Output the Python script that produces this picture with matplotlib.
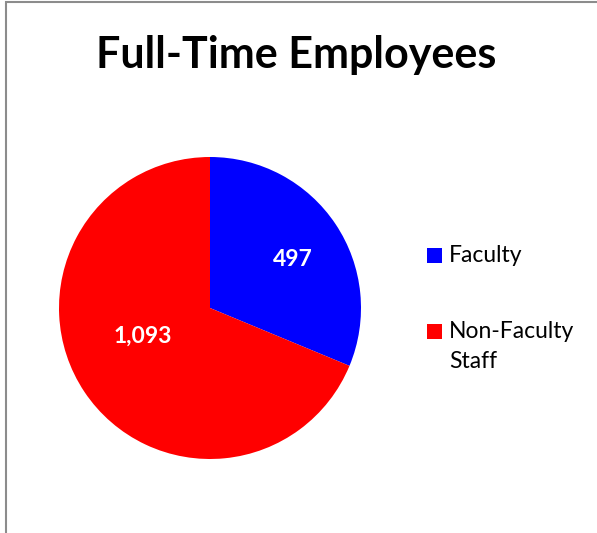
import matplotlib.pyplot as plt
from matplotlib.patches import Rectangle

# data
labels = ['Faculty', 'Non-Faculty\nStaff']
counts = [497, 1093]
colors = ['#0000FF', '#FF0000']
value_text = ['497', '1,093']

W, H = 597, 533
fig = plt.figure(figsize=(W / 100, H / 100), dpi=100)
plt.rcParams['font.family'] = ['Lato', 'DejaVu Sans']

# pie axes: center (210, 308), radius ~151 px
r = 151
cx, cy = 210, 308
ax = fig.add_axes([(cx - r) / W, (H - cy - r) / H, 2 * r / W, 2 * r / H])
wedges, _ = ax.pie(counts, colors=colors, startangle=90, counterclock=False,
                   radius=1.0)
ax.set_xlim(-1, 1)
ax.set_ylim(-1, 1)
ax.set_aspect('equal')
ax.axis('off')

# value labels inside the slices
label_pos = [(293, 260), (143, 336)]
for (px, py), t in zip(label_pos, value_text):
    ax.text((px - cx) / r, (cy - py) / r, t, ha='center', va='center',
            color='white', fontsize=16.5, fontweight='bold')

fig.text(296 / W, 1 - 55 / H, 'Full-Time Employees', ha='center', va='center',
         fontsize=31, fontweight='bold')

# legend, drawn by hand so the square lines up with the first text line
leg_y = [255, 331]
for y, lab, col in zip(leg_y, labels, colors):
    fig.add_artist(Rectangle((427 / W, 1 - (y + 7.5) / H), 15 / W, 15 / H,
                             transform=fig.transFigure, facecolor=col,
                             edgecolor='none'))
    fig.text(449 / W, 1 - (y - 10) / H, lab, ha='left', va='top',
             fontsize=16.5, linespacing=1.55)

# outer border (left and top visible)
fig.add_artist(Rectangle((5.5 / W, -0.1), 1.2, 1.1 - 2.5 / H,
                         transform=fig.transFigure, fill=False,
                         edgecolor='#8c8c8c', linewidth=1.5))

fig.savefig('out.png', dpi=100)
